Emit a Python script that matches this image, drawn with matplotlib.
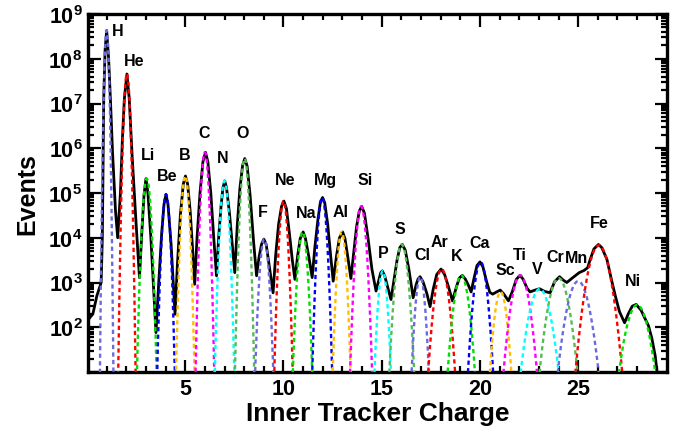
import numpy as np
import matplotlib
matplotlib.use("Agg")
import matplotlib.pyplot as plt
from matplotlib.ticker import MultipleLocator, LogLocator, NullFormatter
from matplotlib import font_manager as fm

# ---------------- data ----------------
elements = ["H", "He", "Li", "Be", "B", "C", "N", "O", "F", "Ne", "Na", "Mg", "Al", "Si",
            "P", "S", "Cl", "Ar", "K", "Ca", "Sc", "Ti", "V", "Cr", "Mn", "Fe", "Ni"]
# fitted component parameters (per element)
comp_center = [1.0, 2.03, 3.04, 4.02, 5.0, 6.0, 7.0, 8.02, 9.02, 10.0, 10.97, 11.97, 12.96,
               13.95, 15.05, 16.02, 16.96, 18.05, 19.05, 20.03, 21.05, 22.05, 23.04, 24.0,
               25.0, 26.05, 28.0]
comp_peak = [4.3e8, 4.6e7, 2.1e5, 9.3e4, 2.4e5, 8.1e5, 1.85e5, 5.9e5, 9.3e3, 6.6e4, 1.35e4,
             7.9e4, 1.35e4, 5.0e4, 1.8e3, 7.1e3, 1.35e3, 2.0e3, 1.45e3, 2.9e3, 620, 1.45e3,
             720, 1.26e3, 1.07e3, 6.8e3, 316]
comp_sigma = [0.058, 0.08, 0.112, 0.105, 0.105, 0.10, 0.112, 0.105, 0.125, 0.112, 0.13,
              0.12, 0.12, 0.136, 0.13, 0.175, 0.14, 0.21, 0.22, 0.19, 0.19, 0.27, 0.33,
              0.31, 0.34, 0.33, 0.35]

# measured distribution (black curve)
charge_data = [0.12, 0.3, 0.5, 0.72, 0.78, 0.85, 0.92, 1.0, 1.1, 1.2, 1.3, 1.45, 1.56,
               1.7, 1.8, 1.9, 2.03, 2.15, 2.3, 2.5, 2.67,
               2.8, 2.9, 3.0, 3.1, 3.25, 3.4, 3.51,
               3.65, 3.8, 3.92, 4.02, 4.12, 4.28, 4.4, 4.48,
               4.6, 4.75, 4.9, 5.01, 5.12, 5.25, 5.38, 5.48,
               5.6, 5.75, 5.9, 6.03, 6.15, 6.3, 6.45, 6.59,
               6.7, 6.82, 6.92, 7.01, 7.1, 7.25, 7.4, 7.52,
               7.65, 7.78, 7.92, 8.03, 8.15, 8.3, 8.48, 8.63,
               8.75, 8.88, 9.0, 9.12, 9.3, 9.47,
               9.6, 9.75, 9.9, 10.02, 10.15, 10.3, 10.45, 10.58,
               10.72, 10.85, 11.0, 11.12, 11.3, 11.46,
               11.6, 11.75, 11.88, 11.99, 12.1, 12.25, 12.4, 12.53,
               12.7, 12.85, 13.01, 13.13, 13.28, 13.43,
               13.58, 13.72, 13.86, 13.98, 14.12, 14.3, 14.5, 14.71,
               14.85, 14.95, 15.03, 15.15, 15.3, 15.47,
               15.62, 15.78, 15.92, 16.05, 16.2, 16.38, 16.6,
               16.75, 16.85, 16.95, 17.1, 17.3, 17.46,
               17.62, 17.8, 18.02, 18.2, 18.4, 18.6,
               18.8, 18.95, 19.1, 19.25, 19.4, 19.55,
               19.7, 19.85, 20.0, 20.15, 20.35, 20.5, 20.65,
               20.85, 21.03, 21.2, 21.45,
               21.65, 21.85, 22.04, 22.2, 22.4, 22.55,
               22.8, 23.03, 23.3, 23.57,
               23.8, 24.05, 24.25, 24.42,
               24.7, 25.05, 25.3, 25.48, 25.6, 25.8,
               26.03, 26.2, 26.46, 26.7, 26.89, 27.1, 27.36,
               27.55, 27.75, 27.95, 28.2, 28.45, 28.58, 28.75, 28.92, 29.0]
log10_events = [2.2, 2.3, 2.7, 3.0, 4.0, 7.1, 8.2, 8.63, 8.0, 7.0, 5.9, 4.6, 4.0,
                5.0, 6.2, 7.1, 7.66, 7.1, 5.8, 4.3, 3.11,
                4.2, 4.95, 5.32, 5.0, 4.0, 2.8, 1.88,
                3.0, 4.1, 4.75, 4.97, 4.75, 3.85, 2.9, 2.29,
                3.4, 4.5, 5.2, 5.38, 5.2, 4.6, 3.7, 2.96,
                4.0, 5.0, 5.7, 5.91, 5.7, 5.0, 4.0, 3.15,
                4.0, 4.7, 5.12, 5.27, 5.12, 4.55, 3.8, 3.22,
                4.3, 5.1, 5.62, 5.77, 5.6, 4.95, 3.9, 3.15,
                3.55, 3.85, 3.97, 3.85, 3.3, 2.77,
                3.6, 4.3, 4.7, 4.82, 4.65, 4.1, 3.5, 3.07,
                3.6, 3.98, 4.13, 3.98, 3.55, 3.11,
                3.8, 4.4, 4.8, 4.9, 4.78, 4.3, 3.6, 3.03,
                3.6, 4.0, 4.13, 3.98, 3.55, 3.09,
                3.7, 4.25, 4.6, 4.70, 4.55, 4.0, 3.3, 2.81,
                3.05, 3.22, 3.26, 3.15, 2.9, 2.62,
                3.05, 3.5, 3.78, 3.85, 3.72, 3.3, 2.66,
                2.95, 3.08, 3.13, 3.02, 2.75, 2.46,
                2.85, 3.18, 3.3, 3.18, 2.9, 2.59,
                2.9, 3.1, 3.16, 3.08, 2.95, 2.79,
                3.1, 3.38, 3.46, 3.35, 3.0, 2.78, 2.74,
                2.79, 2.83, 2.75, 2.59,
                2.8, 3.07, 3.16, 3.07, 2.87, 2.79,
                2.83, 2.86, 2.8, 2.77,
                3.02, 3.13, 3.05, 3.0,
                3.1, 3.22, 3.27, 3.33, 3.5, 3.75,
                3.85, 3.78, 3.52, 3.05, 2.70, 2.35, 2.1,
                2.3, 2.47, 2.51, 2.38, 2.15, 2.03, 1.75, 1.36, 1.06]

x_ticks = [5, 10, 15, 20, 25]
y_tick_exponents = [1, 2, 3, 4, 5, 6, 7, 8, 9]

# label anchor positions (charge, log10 events) - layout only
label_pos = [(1.55, 8.64), (2.38, 7.97), (3.09, 5.87), (4.06, 5.40), (4.97, 5.87),
             (5.94, 6.36), (6.91, 5.80), (7.93, 6.36), (8.95, 4.59), (10.07, 5.31),
             (11.14, 4.57), (12.16, 5.31), (12.92, 4.59), (14.15, 5.31), (15.06, 3.68),
             (15.93, 4.21), (17.05, 3.63), (17.92, 3.92), (18.83, 3.61), (20.0, 3.90),
             (21.28, 3.30), (22.04, 3.63), (22.93, 3.32), (23.83, 3.59), (24.9, 3.56),
             (26.07, 4.35), (27.8, 3.05)]

colour_cycle = ["#6a6ae0", "#ff0000", "#00e000", "#0000ff", "#ffbf00",
                "#ff00ff", "#00ffff", "#55bb55"]

# ---------------- style ----------------
names = {f.name for f in fm.fontManager.ttflist}
base_font = "Liberation Sans"
narrow_font = "Liberation Sans Narrow" if "Liberation Sans Narrow" in names else base_font
plt.rcParams["font.family"] = [base_font, "DejaVu Sans"]
plt.rcParams["font.weight"] = "bold"
plt.rcParams["mathtext.fontset"] = "custom"
plt.rcParams["mathtext.rm"] = base_font + ":bold"
plt.rcParams["mathtext.bf"] = base_font + ":bold"
plt.rcParams["mathtext.it"] = base_font + ":bold"

fig = plt.figure(figsize=(6.86, 4.35), dpi=100)
ax = fig.add_axes([88 / 686, 1 - 373 / 435, (667 - 88) / 686, (373 - 15) / 435])

xlim = (0.05, 29.52)
ax.set_xlim(*xlim)
ax.set_yscale("log")
ax.set_ylim(10, 1e9)

# black measured curve
ax.plot(charge_data, np.power(10.0, log10_events), color="black", lw=2.0, zorder=3,
        solid_joinstyle="round")

# fitted components
xs = np.linspace(xlim[0], xlim[1], 6000)
for i, (mu, amp, sig) in enumerate(zip(comp_center, comp_peak, comp_sigma)):
    y = amp * np.exp(-0.5 * ((xs - mu) / sig) ** 2)
    y[y < 2] = np.nan
    ax.plot(xs, y, color=colour_cycle[i % len(colour_cycle)], lw=1.7,
            linestyle=(0, (1.8, 1.4)), zorder=4)

for name, (cx, ly) in zip(elements, label_pos):
    ax.text(cx, 10 ** ly, name, ha="center", va="center", fontsize=11.5,
            fontweight="bold", zorder=5)

# axes decoration
ax.set_xticks(x_ticks)
ax.set_xticklabels([str(t) for t in x_ticks])
ax.xaxis.set_minor_locator(MultipleLocator(1))
ax.set_yticks([10.0 ** e for e in y_tick_exponents])
ax.set_yticklabels(["" if e == 1 else r"$\mathbf{10^{%d}}$" % e for e in y_tick_exponents])
ax.yaxis.set_minor_locator(LogLocator(base=10, subs=np.arange(2, 10)))
ax.yaxis.set_minor_formatter(NullFormatter())

ax.tick_params(which="both", direction="in", top=True, right=True, width=1.6,
               labelsize=15.5, pad=4)
ax.tick_params(which="major", length=9)
ax.tick_params(which="minor", length=4.5)
for lab in ax.get_xticklabels():
    lab.set_fontweight("bold")
for sp in ax.spines.values():
    sp.set_linewidth(2.4)

ax.set_xlabel("Inner Tracker Charge", fontsize=19, fontweight="bold", labelpad=2)
ax.set_ylabel("Events", fontsize=18, fontweight="bold", labelpad=6,
              family=[narrow_font, "DejaVu Sans"])

fig.savefig("out.png", dpi=100)
